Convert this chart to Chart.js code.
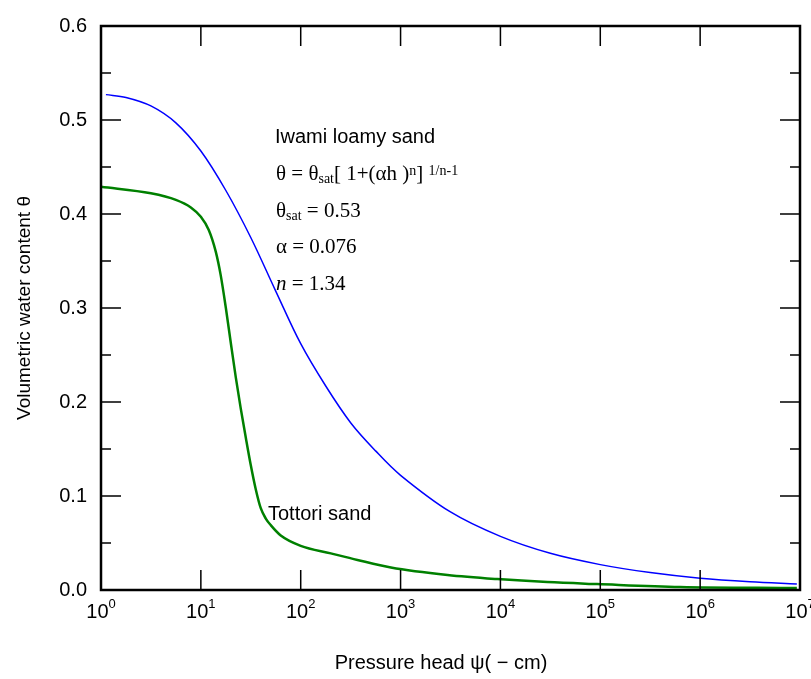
<!DOCTYPE html>
<html>
<head>
<meta charset="utf-8">
<script src="https://cdn.jsdelivr.net/npm/chart.js@4.4.1/dist/chart.umd.min.js"></script>
<style>
  html, body { margin: 0; padding: 0; background: #fff; }
  #wrap { width: 811px; height: 679px; }
</style>
</head>
<body>
<div id="wrap"><canvas id="retentionChart" width="811" height="679"></canvas></div>
<script>
// pressure head (-cm) and volumetric water content
const iwamiHead = [1.12, 1.78, 3.16, 5.62, 10, 17.8, 31.6, 56.2, 100, 178, 316, 562, 1000, 3160, 10000, 31600, 100000, 316000, 1000000, 3160000, 9300000];
const iwamiTheta = [0.527, 0.524, 0.515, 0.497, 0.467, 0.425, 0.375, 0.318, 0.262, 0.217, 0.178, 0.148, 0.122, 0.083, 0.057, 0.039, 0.027, 0.0185, 0.0125, 0.0087, 0.0063];

const tottoriHead = [1.0, 3.16, 5.62, 7.94, 10, 12.0, 14.1, 15.8, 17.8, 20.0, 22.4, 25.1, 28.2, 31.6, 35.5, 39.8, 44.7, 50.1, 63.1, 100, 200, 370, 800, 2950, 9300, 29500, 93000, 630000, 9300000];
const tottoriTheta = [0.429, 0.422, 0.415, 0.407, 0.397, 0.383, 0.360, 0.335, 0.300, 0.262, 0.226, 0.193, 0.162, 0.133, 0.107, 0.087, 0.076, 0.069, 0.058, 0.047, 0.039, 0.032, 0.024, 0.016, 0.0116, 0.0084, 0.0063, 0.0032, 0.002];

const xDecades = [1, 10, 100, 1e3, 1e4, 1e5, 1e6, 1e7];
const xExponents = ["0", "1", "2", "3", "4", "5", "6", "7"];
const yMajor = [0, 0.1, 0.2, 0.3, 0.4, 0.5, 0.6];
const yMinor = [0.05, 0.15, 0.25, 0.35, 0.45, 0.55];

const SANS = "'Liberation Sans', Arial, sans-serif";
const SERIF = "'Liberation Serif', 'Times New Roman', serif";

function toPoints(xs, ys) {
  return xs.map((h, i) => ({ x: h, y: ys[i] }));
}

// draws a run of text pieces, each with its own size and baseline shift
function drawRun(ctx, x, y, parts) {
  parts.forEach(p => {
    ctx.font = p.font;
    ctx.fillText(p.t, x, y + (p.dy || 0));
    x += ctx.measureText(p.t).width;
  });
}

const frameAndTicks = {
  id: "frameAndTicks",
  afterDraw(chart) {
    const { ctx, chartArea: a, scales: { x, y } } = chart;
    ctx.save();
    ctx.strokeStyle = "#000";
    ctx.lineWidth = 1.5;
    ctx.beginPath();
    xDecades.forEach(v => {
      const px = x.getPixelForValue(v);
      ctx.moveTo(px, a.bottom); ctx.lineTo(px, a.bottom - 20);
      ctx.moveTo(px, a.top); ctx.lineTo(px, a.top + 20);
    });
    yMajor.forEach(v => {
      const py = y.getPixelForValue(v);
      ctx.moveTo(a.left, py); ctx.lineTo(a.left + 20, py);
      ctx.moveTo(a.right, py); ctx.lineTo(a.right - 20, py);
    });
    yMinor.forEach(v => {
      const py = y.getPixelForValue(v);
      ctx.moveTo(a.left, py); ctx.lineTo(a.left + 10, py);
      ctx.moveTo(a.right, py); ctx.lineTo(a.right - 10, py);
    });
    ctx.stroke();

    ctx.lineWidth = 2.5;
    ctx.strokeRect(a.left, a.top, a.right - a.left, a.bottom - a.top);

    // x tick labels 10^n
    ctx.fillStyle = "#000";
    ctx.textBaseline = "alphabetic";
    ctx.textAlign = "left";
    xDecades.forEach((v, i) => {
      const px = x.getPixelForValue(v);
      ctx.font = "20px " + SANS;
      const wBase = ctx.measureText("10").width;
      ctx.font = "13px " + SANS;
      const wExp = ctx.measureText(xExponents[i]).width;
      const start = px - (wBase + wExp) / 2;
      ctx.font = "20px " + SANS;
      ctx.fillText("10", start, 618);
      ctx.font = "13px " + SANS;
      ctx.fillText(xExponents[i], start + wBase, 608);
    });

    // x axis title
    ctx.font = "20px " + SANS;
    ctx.textAlign = "center";
    ctx.textBaseline = "middle";
    ctx.fillText("Pressure head \u03c8( \u2212 cm)", 441, 663);
    ctx.textAlign = "left";
    ctx.textBaseline = "alphabetic";

    // annotations
    ctx.font = "20px " + SANS;
    ctx.fillText("Iwami loamy sand", 275, 143);
    ctx.fillText("Tottori sand", 268, 520);

    const big = "21px " + SERIF;
    const small = "14px " + SERIF;
    drawRun(ctx, 276, 180, [
      { t: "\u03b8 = \u03b8", font: big },
      { t: "sat", font: small, dy: 3 },
      { t: "[ 1+(\u03b1h )", font: big },
      { t: "n", font: small, dy: -5 },
      { t: "] ", font: big },
      { t: "1/n-1", font: small, dy: -5 }
    ]);
    drawRun(ctx, 276, 217, [
      { t: "\u03b8", font: big },
      { t: "sat", font: small, dy: 3 },
      { t: " = 0.53", font: big }
    ]);
    drawRun(ctx, 276, 253, [{ t: "\u03b1 = 0.076", font: big }]);
    drawRun(ctx, 276, 290, [
      { t: "n", font: "italic " + big },
      { t: " = 1.34", font: big }
    ]);
    ctx.restore();
  }
};

new Chart(document.getElementById("retentionChart"), {
  type: "scatter",
  data: {
    datasets: [
      {
        label: "Iwami loamy sand",
        data: toPoints(iwamiHead, iwamiTheta),
        showLine: true,
        borderColor: "#0000ff",
        borderWidth: 1.5,
        pointRadius: 0,
        tension: 0.35
      },
      {
        label: "Tottori sand",
        data: toPoints(tottoriHead, tottoriTheta),
        showLine: true,
        borderColor: "#008000",
        borderWidth: 2.5,
        pointRadius: 0,
        cubicInterpolationMode: "monotone"
      }
    ]
  },
  options: {
    responsive: false,
    animation: false,
    layout: { padding: { left: 0, right: 11, top: 19, bottom: 0 } },
    plugins: { legend: { display: false }, tooltip: { enabled: false } },
    scales: {
      x: {
        type: "logarithmic",
        min: 1,
        max: 1e7,
        grid: { display: false },
        border: { display: false },
        ticks: { display: false },
        afterFit(scale) { scale.height = 89; }
      },
      y: {
        min: 0,
        max: 0.6,
        grid: { display: false, drawTicks: false },
        border: { display: false },
        ticks: {
          stepSize: 0.1,
          padding: 14,
          color: "#000",
          font: { family: SANS, size: 20 },
          callback: v => v.toFixed(1)
        },
        title: {
          display: true,
          text: "Volumetric water content \u03b8",
          color: "#000",
          font: { family: SANS, size: 19 },
          padding: { top: 13, bottom: 0 }
        },
        afterFit(scale) { scale.width = 101; }
      }
    }
  },
  plugins: [frameAndTicks]
});
</script>
</body>
</html>
